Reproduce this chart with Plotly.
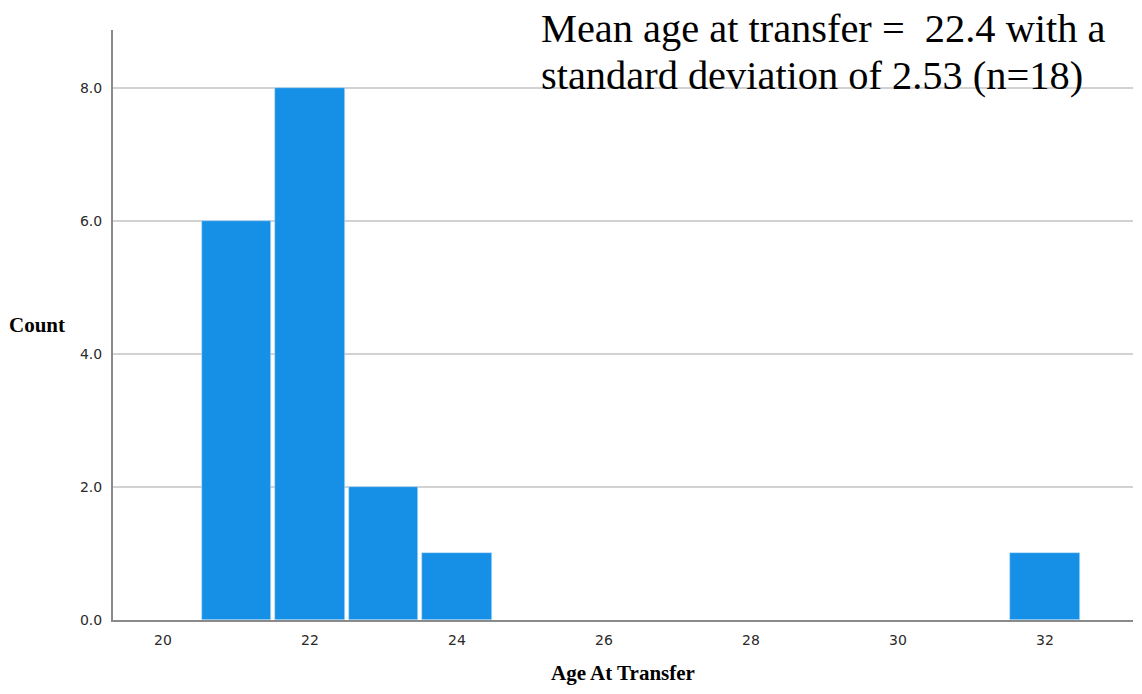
import plotly.graph_objects as go

ages = [21, 22, 23, 24, 32]
counts = [6, 8, 2, 1, 1]
x_ticks = [20, 22, 24, 26, 28, 30, 32]
y_ticks = [0, 2, 4, 6, 8]
y_tick_labels = ["0.0", "2.0", "4.0", "6.0", "8.0"]
note_lines = ["Mean age at transfer =  22.4 with a", "standard deviation of 2.53 (n=18)"]

fig = go.Figure()
fig.add_trace(go.Bar(
    x=ages, y=counts, width=0.94,
    marker=dict(color="#1590E6", line=dict(color="#BFE2FA", width=0.6)),
    showlegend=False,
))

L, R, T, B = 113, 9, 30, 74
W, H = 1142, 694
PW, PH = W - L - R, H - T - B


def px(xp):
    return (xp - L) / PW


def py(yp):
    return (H - B - yp) / PH


annotations = []
for line, ypix in zip(note_lines, [29, 75]):
    annotations.append(dict(
        text=line, xref="paper", yref="paper", x=px(539), y=py(ypix),
        xanchor="left", yanchor="middle", align="left", showarrow=False,
        font=dict(family="Liberation Serif", size=40.4, color="black")))
annotations += [
    dict(text="<b>Count</b>", xref="paper", yref="paper", x=px(37), y=py(325),
         xanchor="center", yanchor="middle", showarrow=False,
         font=dict(family="Liberation Serif", size=21, color="black")),
    dict(text="<b>Age At Transfer</b>", xref="paper", yref="paper", x=px(623), y=py(673),
         xanchor="center", yanchor="middle", showarrow=False,
         font=dict(family="Liberation Serif", size=21, color="black")),
]

fig.update_layout(
    width=W, height=H,
    margin=dict(l=L, r=R, t=T, b=B),
    plot_bgcolor="white", paper_bgcolor="white",
    bargap=0,
    xaxis=dict(
        range=[19.32, 33.197], tickvals=x_ticks, ticktext=[str(v) for v in x_ticks],
        showgrid=False, zeroline=False, showline=True, linecolor="#8A8A8A", linewidth=2,
        ticks="", tickfont=dict(family="DejaVu Sans", size=14, color="#2A2A2A"),
        ticklabelstandoff=6,
    ),
    yaxis=dict(
        range=[0, 8.87], tickvals=y_ticks, ticktext=y_tick_labels,
        showgrid=True, gridcolor="#D2D2D2", gridwidth=1.5, zeroline=False,
        showline=True, linecolor="#8A8A8A", linewidth=2,
        ticks="", tickfont=dict(family="DejaVu Sans", size=14, color="#2A2A2A"),
        ticklabelstandoff=6,
    ),
    annotations=annotations,
)

fig.write_html("out.html")
